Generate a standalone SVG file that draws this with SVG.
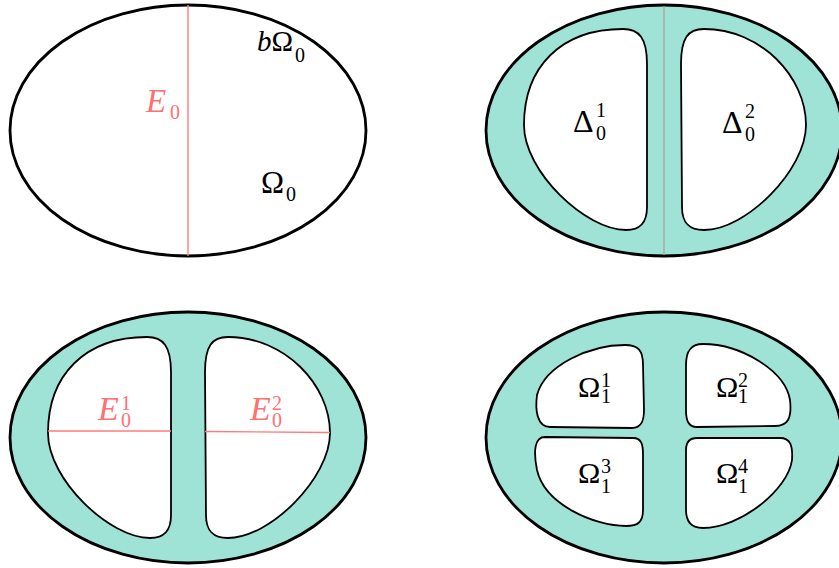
<svg xmlns="http://www.w3.org/2000/svg" width="839" height="568" viewBox="0 0 839 568">
<style>
.outer{fill:#9fe3d6;stroke:#000;stroke-width:2.8}
.plain{fill:#fff;stroke:#000;stroke-width:2.8}
.inner{fill:#fff;stroke:#000;stroke-width:1.8}
.red{stroke:#ff7a7a;stroke-width:1.4;fill:none}
.t{font-family:"Liberation Serif","DejaVu Serif",serif;fill:#000}
.tr{font-family:"Liberation Serif","DejaVu Serif",serif;fill:#ff7070}
.it{font-style:italic}
</style>
<defs>
<path id="leftD" d="M 171 372 C 171 346, 163 337, 147 337 C 85 337, 48 375, 48 433 C 48 480, 110 538, 150 538 C 165 538, 171 530, 171 515 Z"/>
<path id="rightD" d="M 205 372 C 205 346, 212 337, 228 337 C 285 337, 330 385, 330 433 C 330 478, 270 538, 228 538 C 212 538, 206 530, 206 515 Z"/>
</defs>

<g id="panel-a">
<ellipse class="plain" cx="188" cy="130.5" rx="178" ry="125.5"/>
<line class="red" x1="188" y1="5" x2="188" y2="256"/>
<text class="tr" font-size="33" x="146" y="112"><tspan class="it">E</tspan><tspan font-size="20" x="170" y="119">0</tspan></text>
<text class="t" font-size="29" x="257" y="51"><tspan class="it">b</tspan>Ω<tspan font-size="20" x="295" y="62">0</tspan></text>
<text class="t" font-size="31" x="261" y="193">Ω<tspan font-size="20" x="286" y="201">0</tspan></text>
</g>

<g id="panel-b">
<ellipse class="outer" cx="664" cy="130.5" rx="178" ry="125.5"/>
<line x1="664" y1="6" x2="664" y2="255" stroke="#b49c9a" stroke-width="1.2"/>
<use href="#leftD" class="inner" transform="translate(476,-308)"/>
<use href="#rightD" class="inner" transform="translate(476,-308)"/>
<text class="t" font-size="32" x="573" y="132">Δ<tspan font-size="20" x="596" y="117">1</tspan><tspan font-size="20" x="596" y="140">0</tspan></text>
<text class="t" font-size="32" x="722" y="133">Δ<tspan font-size="20" x="745" y="118">2</tspan><tspan font-size="20" x="745" y="141">0</tspan></text>
</g>

<g id="panel-c">
<ellipse class="outer" cx="188" cy="437.5" rx="178" ry="125.5"/>
<use href="#leftD" class="inner"/>
<use href="#rightD" class="inner"/>
<line class="red" x1="48" y1="431" x2="171" y2="431"/>
<line class="red" x1="205" y1="431.5" x2="330" y2="432.5"/>
<text class="tr" font-size="34" x="98" y="420"><tspan class="it">E</tspan><tspan font-size="20" x="121" y="410">1</tspan><tspan font-size="20" x="121" y="427">0</tspan></text>
<text class="tr" font-size="34" x="250" y="420"><tspan class="it">E</tspan><tspan font-size="20" x="272" y="410">2</tspan><tspan font-size="20" x="272" y="427">0</tspan></text>
</g>

<g id="panel-d">
<ellipse class="outer" cx="664" cy="437.5" rx="178" ry="125.5"/>
<g id="omega11">
<path class="inner" d="M 643 365 C 643 350, 638 345, 625 345 C 590 345, 545 365, 537 395 C 535 410, 537 427, 550 427 L 632 428 C 642 428, 644 420, 644 410 Z"/>
<text class="t" font-size="30" x="578" y="397">Ω<tspan font-size="20" x="601" y="387">1</tspan><tspan font-size="20" x="601" y="403">1</tspan></text>
</g>
<g id="omega12">
<path class="inner" d="M 686 365 C 686 352, 690 344, 703 344 C 740 344, 785 370, 790 400 C 792 418, 788 426, 775 426 L 697 427 C 688 427, 686 420, 686 410 Z"/>
<text class="t" font-size="30" x="716" y="397">Ω<tspan font-size="20" x="738" y="387">2</tspan><tspan font-size="20" x="738" y="403">1</tspan></text>
</g>
<g id="omega13">
<path class="inner" d="M 545 437 L 633 438 C 642 438, 643 445, 643 455 L 643 510 C 643 522, 638 526, 626 526 C 595 526, 545 505, 537 470 C 533 450, 535 437, 545 437 Z"/>
<text class="t" font-size="30" x="578" y="483">Ω<tspan font-size="20" x="601" y="473">3</tspan><tspan font-size="20" x="601" y="493">1</tspan></text>
</g>
<g id="omega14">
<path class="inner" d="M 697 438 L 780 438 C 790 438, 793 445, 792 460 C 788 490, 740 528, 703 528 C 690 528, 686 520, 686 510 L 686 450 C 686 442, 689 438, 697 438 Z"/>
<text class="t" font-size="30" x="716" y="483">Ω<tspan font-size="20" x="738" y="473">4</tspan><tspan font-size="20" x="738" y="493">1</tspan></text>
</g>
</g>
<g id="connectors"/>
</svg>
